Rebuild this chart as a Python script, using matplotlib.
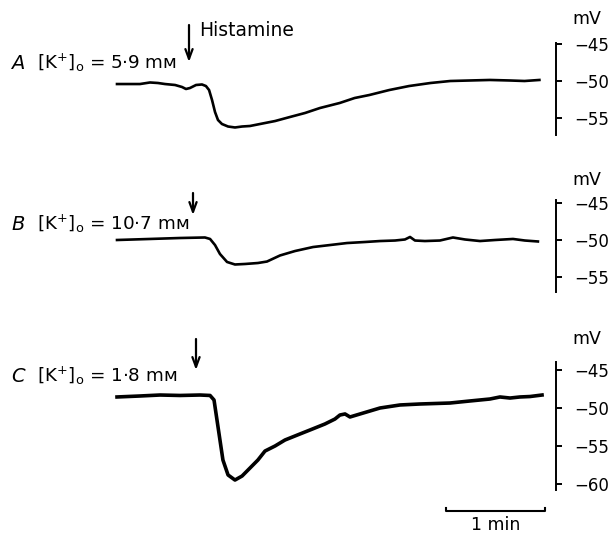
import matplotlib
matplotlib.use('Agg')
import matplotlib.pyplot as plt

plt.rcParams['font.family'] = ['DejaVu Sans', 'Noto Sans']
plt.rcParams['mathtext.fontset'] = 'dejavusans'

# time (s) and membrane potential (mV)
t_a = [0, 13.9, 20, 24.8, 29.1, 35.2, 39.4, 41.8, 44.2, 47.9, 51.5, 53.9, 55.8, 57.6, 59.4,
       61.2, 63.6, 67.3, 71.5, 75.8, 80.6, 86.7, 95.8, 104.9, 114, 123, 135, 144, 153, 165,
       177, 190, 202, 214, 226, 238, 247, 256]
v_a = [-50.41, -50.41, -50.2, -50.27, -50.41, -50.54, -50.81, -51.08, -50.95, -50.54, -50.47,
       -50.68, -51.22, -52.57, -54.19, -55.27, -55.81, -56.15, -56.28, -56.15, -56.08, -55.81,
       -55.41, -54.86, -54.32, -53.65, -52.97, -52.3, -51.89, -51.22, -50.68, -50.27, -50.0,
       -49.93, -49.86, -49.93, -50.0, -49.86]

t_b = [0, 20, 38.2, 53.3, 56.4, 59.4, 62.4, 66.7, 71.5, 77.6, 85.4, 90.9, 98.8, 107.9, 118.8,
       129.1, 139.4, 150.3, 159.4, 168.5, 174.5, 177.6, 180.6, 186.6, 195.7, 203.6, 210.9,
       220, 229.1, 240, 247.2, 255.1]
v_b = [-50.0, -49.86, -49.73, -49.66, -49.86, -50.68, -51.89, -52.97, -53.31, -53.24, -53.11,
       -52.91, -52.09, -51.49, -50.95, -50.68, -50.41, -50.27, -50.14, -50.07, -49.93, -49.59,
       -50.07, -50.14, -50.07, -49.66, -49.93, -50.14, -50.0, -49.86, -50.07, -50.2]

t_c = [0, 13.9, 26.1, 38.2, 50.3, 56.4, 58.8, 60.6, 62.4, 64.2, 67.3, 71.5, 75.8, 80.6, 85.4,
       89.7, 95.8, 101.8, 110.9, 117, 126, 132.1, 135.1, 138.2, 141.2, 147.3, 159.4, 171.5,
       183.6, 201.8, 213.9, 226, 232.1, 238.2, 244.2, 250.3, 257.6]
v_c = [-48.54, -48.41, -48.28, -48.34, -48.28, -48.34, -48.94, -51.59, -54.24, -56.89, -58.87,
       -59.54, -59.01, -57.95, -56.89, -55.7, -55.03, -54.24, -53.44, -52.91, -52.12, -51.46,
       -50.93, -50.79, -51.19, -50.79, -50.0, -49.6, -49.47, -49.34, -49.07, -48.81, -48.54,
       -48.68, -48.54, -48.48, -48.28]

ticks_ab = [-45, -50, -55]
ticks_c = [-45, -50, -55, -60]
labels = ['[K$^{+}$]$_{\\mathrm{o}}$ = 5·9 mᴍ',
          '[K$^{+}$]$_{\\mathrm{o}}$ = 10·7 mᴍ',
          '[K$^{+}$]$_{\\mathrm{o}}$ = 1·8 mᴍ']
letters = ['A', 'B', 'C']

W, H = 612, 538
fig = plt.figure(figsize=(W / 100, H / 100), dpi=100)
px = 60 / 99.0  # seconds per pixel
xlim = (-117 * px, (W - 117) * px)


def panel(top, bot, zero, ppm, t, v, ticks, bounds, lw):
    ax = fig.add_axes([0, 1 - bot / H, 1, (bot - top) / H])
    ax.set_facecolor('none')
    ax.set_xlim(*xlim)
    ax.set_ylim(-50 - (bot - zero) / ppm, -50 + (zero - top) / ppm)
    ax.plot(t, v, color='black', lw=lw, solid_joinstyle='round')
    for s in ['top', 'left', 'bottom']:
        ax.spines[s].set_visible(False)
    ax.spines['right'].set_position(('data', 266))
    ax.spines['right'].set_bounds(*bounds)
    ax.spines['right'].set_linewidth(1.4)
    ax.set_xticks([])
    ax.yaxis.set_ticks_position('right')
    ax.set_yticks(ticks)
    ax.tick_params(axis='y', direction='out', length=4.5, width=1.4, pad=9, labelsize=12)
    return ax


def fig_xy(x, y):
    return x / W, 1 - y / H


ax_a = panel(0, 170, 81, 7.4, t_a, v_a, ticks_ab, (-44.9, -57.3), 1.9)
ax_b = panel(160, 320, 240, 7.4, t_b, v_b, ticks_ab, (-44.6, -57.0), 1.9)
ax_c = panel(320, 538, 408, 7.55, t_c, v_c, ticks_c, (-43.9, -60.9), 2.6)

# mV unit labels
for y in [19, 180, 339]:
    fig.text(*fig_xy(587, y), 'mV', fontsize=12.5, ha='center', va='center')

# panel labels
for letter, lab, base in zip(letters, labels, [69, 230, 382]):
    fig.text(*fig_xy(11, base), letter, fontsize=14, style='italic', va='baseline')
    fig.text(*fig_xy(37, base), lab, fontsize=13.2, va='baseline')

# histamine arrows
for xa, y0, y1 in [(189, 25, 62), (193, 193, 215), (196, 339, 370)]:
    fig.add_artist(matplotlib.patches.FancyArrowPatch(
        fig_xy(xa, y0), fig_xy(xa, y1), transform=fig.transFigure,
        arrowstyle='->,head_length=7,head_width=2.6', lw=1.6, color='black',
        shrinkA=0, shrinkB=0))
fig.text(*fig_xy(199, 30), 'Histamine', fontsize=13.5, va='center')

# 1 min time scale bar in panel C
bar_t0, bar_len = 199.4, 60
ax_c.plot([bar_t0, bar_t0, bar_t0 + bar_len, bar_t0 + bar_len],
          [-63.3, -63.64, -63.64, -63.3], color='black', lw=1.5)
ax_c.text(bar_t0 + bar_len / 2, -65.5, '1 min', fontsize=12.5, ha='center', va='center')

fig.savefig('out.png', dpi=100)
